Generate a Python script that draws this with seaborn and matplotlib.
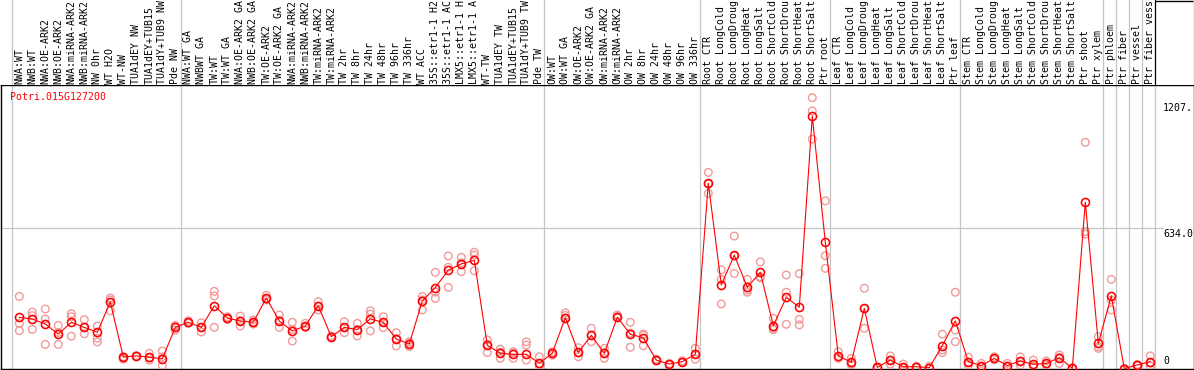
import numpy as np
import pandas as pd
import matplotlib
matplotlib.use("Agg")
import matplotlib.pyplot as plt
import seaborn as sns
from matplotlib import transforms

# ---------------- data ----------------
gene = "Potri.015G127200"

labels = [
    "NWA:WT", "NWB:WT", "NWA:OE-ARK2", "NWB:OE-ARK2", "NWA:miRNA-ARK2", "NWB:miRNA-ARK2",
    "NW 0hr", "WT H2O", "WT-NW", "TUA1dEY NW", "TUA1dEY+TUB15", "TUA1dY+TUB9 NW", "Pde NW",
    "NWA:WT GA", "NWBWT GA", "TW:WT", "TW:WT GA", "NWA:OE-ARK2 GA", "NWB:OE-ARK2 GA",
    "TW:OE-ARK2", "TW:OE-ARK2 GA", "NWA:miRNA-ARK2", "NWB:miRNA-ARK2", "TW:miRNA-ARK2",
    "TW:miRNA-ARK2", "TW 2hr", "TW 8hr", "TW 24hr", "TW 48hr", "TW 96hr", "TW 336hr", "WT ACC",
    "35S::etr1-1 H2", "35S::etr1-1 AC", "LMX5::etr1-1 H", "LMX5::etr1-1 A", "WT-TW",
    "TUA1dEY TW", "TUA1dEY+TUB15", "TUA1dY+TUB9 TW", "Pde TW",
    "OW:WT", "OW:WT GA", "OW:OE-ARK2", "OW:OE-ARK2 GA", "OW:miRNA-ARK2", "OW:miRNA-ARK2",
    "OW 2hr", "OW 8hr", "OW 24hr", "OW 48hr", "OW 96hr", "OW 336hr",
    "Root CTR", "Root LongCold", "Root LongDroug", "Root LongHeat", "Root LongSalt",
    "Root ShortCold", "Root ShortDrou", "Root ShortHeat", "Root ShortSalt", "Ptr root",
    "Leaf CTR", "Leaf LongCold", "Leaf LongDroug", "Leaf LongHeat", "Leaf LongSalt",
    "Leaf ShortCold", "Leaf ShortDrou", "Leaf ShortHeat", "Leaf ShortSalt", "Ptr leaf",
    "Stem CTR", "Stem LongCold", "Stem LongDroug", "Stem LongHeat", "Stem LongSalt",
    "Stem ShortCold", "Stem ShortDrou", "Stem ShortHeat", "Stem ShortSalt", "Ptr shoot",
    "Ptr xylem", "Ptr phloem", "Ptr fiber", "Ptr vessel", "Ptr fiber vess",
]

means = [
    231, 224, 201, 156, 209, 186, 164, 301, 52, 57, 51, 44, 186,
    209, 186, 284, 228, 215, 209, 319, 215, 170, 192, 283, 144, 186, 176, 224, 209,
    133, 111, 305, 366, 445, 473, 489, 105, 69, 64, 64, 24,
    69, 230, 73, 150, 69, 232, 155, 139, 38, 20, 31, 64,
    838, 378, 513, 367, 435, 194, 322, 277, 1142, 571,
    57, 28, 272, 5, 38, 8, 8, 4, 103, 215,
    31, 13, 46, 13, 34, 19, 23, 49, 1, 752, 114,
    328, 0, 16, 31,
]

rep1 = [
    326, 255, 269, 195, 248, 221, 192, 319, 53, 57, 69, 79, 195,
    216, 207, 349, 234, 237, 219, 331, 242, 209, 204, 302, 144, 212, 204, 261, 234,
    162, 121, 325, 435, 509, 503, 526, 129, 87, 76, 121, 53,
    76, 252, 94, 182, 91, 242, 209, 156, 40, 18, 35, 91,
    887, 446, 599, 403, 482, 227, 423, 429, 1225, 758,
    76, 46, 363, 5, 57, 20, 10, 10, 155, 345,
    51, 23, 53, 23, 53, 38, 34, 61, 3, 1023, 144,
    403, 0, 16, 57,
]
rep2 = [
    204, 239, 224, 109, 234, 157, 137, 261, 42, 55, 38, 13, 174,
    204, 165, 328, 222, 192, 201, 310, 186, 124, 186, 265, 140, 162, 147, 170, 185,
    102, 99, 265, 317, 458, 438, 513, 72, 46, 46, 106, 10,
    60, 240, 53, 121, 46, 235, 96, 103, 35, 22, 28, 42,
    792, 403, 430, 345, 415, 182, 345, 222, 1165, 510,
    46, 16, 182, 3, 20, 5, 6, 2, 84, 174,
    16, 10, 40, 10, 16, 12, 15, 23, 1, 619, 99,
    310, 1, 18, 11,
]
rep3 = [
    171, 177, 109, 163, 146, 186, 120, 310, 50, 58, 48, 53, 190,
    208, 186, 186, 228, 216, 207, 316, 217, 177, 188, 282, 148, 185, 177, 246, 208,
    135, 113, 310, 346, 367, 478, 442, 110, 74, 70, 38, 20,
    70, 228, 70, 150, 70, 230, 160, 150, 42, 15, 30, 65,
    835, 292, 510, 355, 410, 175, 200, 197, 1037, 453,
    50, 22, 270, 7, 38, 2, 8, 1, 72, 121,
    28, 8, 45, 8, 33, 10, 20, 50, 0, 608, 91,
    265, 0, 14, 25,
]

# group separators (after these category indices)
group_ends = [-1, 12, 40, 52, 62, 72, 83, 84, 85, 86, 87]
yticks = [0, 634, 1207]
ytick_labels = ["0", "634.0", "1207."]

# ---------------- figure ----------------
sns.set_style("white")
plt.rcParams['font.family'] = ['DejaVu Sans Mono']
FS = 7.1

W, H = 1194, 370
fig = plt.figure(figsize=(W / 100, H / 100), dpi=100)


def px_axes(x0, y0, x1, y1):
    return fig.add_axes([x0 / W, 1 - y1 / H, (x1 - x0) / W, (y1 - y0) / H])


ax = px_axes(0.5, 85, 1193.5, 369)
axl = px_axes(0.5, 0, 1193.5, 85)

X0, DX = 19.3, 13.0
xlim = ((0.5 - X0) / DX, (1193.5 - X0) / DX)
Y0, K = 368.5, 4.523
ylim = ((Y0 - 369) * K, (Y0 - 85) * K)

idx = np.arange(len(labels))
df_mean = pd.DataFrame({"x": idx, "value": means})
df_rep = pd.DataFrame({
    "x": np.concatenate([idx, idx, idx]),
    "value": np.concatenate([rep1, rep2, rep3]),
})

grid_c = "#c4c4c4"
for g in group_ends:
    ax.axvline(g + 0.4, color=grid_c, lw=0.9, zorder=1)
    axl.axvline(g + 0.4, color=("black" if g == 87 else grid_c), lw=0.9, zorder=1)

x_lab = (1163 - X0) / DX
ax.hlines(634, xlim[0], x_lab, color=grid_c, lw=0.9, zorder=1)

sns.scatterplot(data=df_rep, x="x", y="value", ax=ax, marker="o", s=30,
                facecolors="none", edgecolor="#f19a9a", linewidth=1.0, zorder=3,
                legend=False)
sns.lineplot(data=df_mean, x="x", y="value", ax=ax, color="red", lw=0.8,
             marker="o", markersize=5.8, markerfacecolor="none",
             markeredgecolor="red", markeredgewidth=1.15, zorder=4, legend=False)

ax.set_xlim(*xlim)
ax.set_ylim(*ylim)
ax.set_xticks([])
ax.set_yticks([])
ax.set_xlabel("")
ax.set_ylabel("")
for s in ax.spines.values():
    s.set_color("black")
    s.set_linewidth(1.0)

# y tick labels on the right
for v, t in zip(yticks, ytick_labels):
    if v == 0:
        tr = transforms.offset_copy(ax.transData, fig=fig, x=0, y=3, units="dots")
        ax.text(x_lab, v, t, transform=tr, ha="left", va="bottom", fontsize=FS, color="black")
    else:
        tr = transforms.offset_copy(ax.transData, fig=fig, x=0, y=-1, units="dots")
        ax.text(x_lab, v, t, transform=tr, ha="left", va="top", fontsize=FS, color="black")

# gene name
fig.text(10 / W, 1 - 92 / H, gene, color="red", fontsize=FS, ha="left", va="top")

# label strip
axl.set_xlim(*xlim)
axl.set_ylim(0, 85)
axl.set_xticks([])
axl.set_yticks([])
for k, s in axl.spines.items():
    s.set_visible(k == "right")
    s.set_color("black")
axl.hlines(84.5, 87.4, xlim[1], color="black", lw=1.0)
for i, lab in enumerate(labels):
    axl.text(i, 1.5, lab, rotation=90, ha="center", va="bottom", fontsize=FS,
             color="black", clip_on=False)

fig.savefig("out.png", dpi=100)
